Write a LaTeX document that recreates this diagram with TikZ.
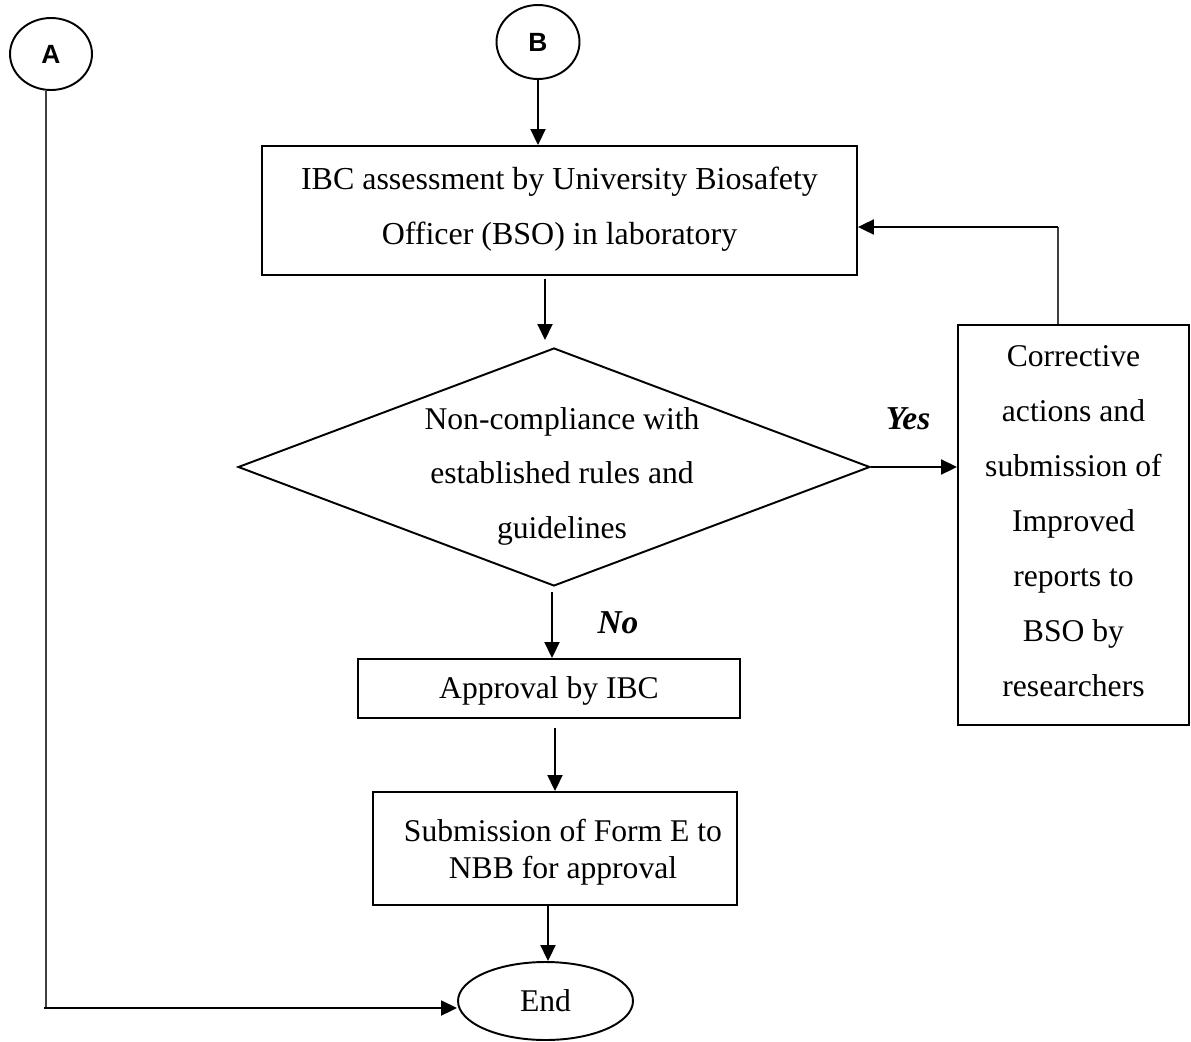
\documentclass[tikz,border=0pt]{standalone}
\usepackage{fontspec}
\setmainfont{Liberation Serif}
\newfontfamily\arialf{Liberation Sans}
\usetikzlibrary{arrows.meta,shapes.geometric}
\begin{document}
\begin{tikzpicture}[x=0.02cm,y=-0.02cm,
  every node/.style={font=\fontsize{18}{31}\selectfont},
  boxn/.style={draw,line width=1.1pt,inner sep=0pt,align=center},
  txt/.style={align=center,inner sep=0pt},
  elln/.style={draw,ellipse,line width=1.1pt,inner sep=0pt},
  conn/.style={elln,font=\arialf\fontsize{15}{17}\selectfont\bfseries},
  lbl/.style={font=\fontsize{19}{22}\selectfont\bfseries\itshape},
  arr/.style={line width=1.1pt,-{Triangle[length=0.32cm,width=0.3cm]}},
  thin/.style={line width=0.8pt,black!75}]
\useasboundingbox (0,0) rectangle (1191,1042);
\node[conn,minimum width=1.64cm,minimum height=1.44cm] (A) at (51,54) {A};
\node[conn,minimum width=1.66cm,minimum height=1.48cm] (B) at (538,42) {B};
\node[boxn,minimum width=11.9cm,minimum height=2.58cm] (box1) at (559.5,210.5) {};
\node[txt,font=\fontsize{18.2}{31.5}\selectfont] (box1t) at (559.5,209) {IBC assessment by University Biosafety\\Officer (BSO) in laboratory};
\node[draw,diamond,aspect=2.66,line width=1.1pt,inner sep=0pt,minimum width=12.64cm,minimum height=4.76cm] (dia) at (554,467) {};
\node[txt] (diat) at (562,476) {Non-compliance with\\established rules and\\guidelines};
\node[boxn,minimum width=4.62cm,minimum height=8cm] (corr) at (1073.5,525) {};
\node[txt,font=\fontsize{18}{31.3}\selectfont] (corrt) at (1073.5,521) {Corrective\\actions and\\submission of\\Improved\\reports to\\BSO by\\researchers};
\node[boxn,minimum width=7.64cm,minimum height=1.18cm] (appr) at (549,688.5) {};
\node[txt] (apprt) at (549,691) {Approval by IBC};
\node[boxn,minimum width=7.28cm,minimum height=2.26cm] (sub) at (555,848.5) {};
\node[txt,font=\fontsize{18}{21.2}\selectfont] (subt) at (563,852) {Submission of Form E to\\NBB for approval};
\node[elln,minimum width=3.5cm,minimum height=1.56cm] (end) at (545.5,1001) {End};
\node[lbl] (yes) at (908,419) {Yes};
\node[lbl] (no) at (618,623) {No};
\coordinate (acorner) at (46,1008);
\coordinate (fb) at (1058,227);
\draw[thin] (A.south -| acorner) -- (acorner);
\draw[arr] (acorner) ++(-2,0) -- (acorner -| end.west);
\draw[arr] (B.south) -- (B.south |- box1.north);
\draw[arr] (box1.south -| 545,0) ++(0,3) -- (545,340);
\draw[arr] (dia.east) -- (dia.east -| corr.west);
\draw[thin] (corr.north -| fb) -- (fb);
\draw[arr] (fb) -- (fb -| box1.east);
\draw[arr] (552,592) -- (appr.north -| 552,0);
\draw[arr] (555,728) -- (sub.north -| 555,0);
\draw[arr] (sub.south -| 548,0) -- (end.north -| 548,0);
\end{tikzpicture}
\end{document}
